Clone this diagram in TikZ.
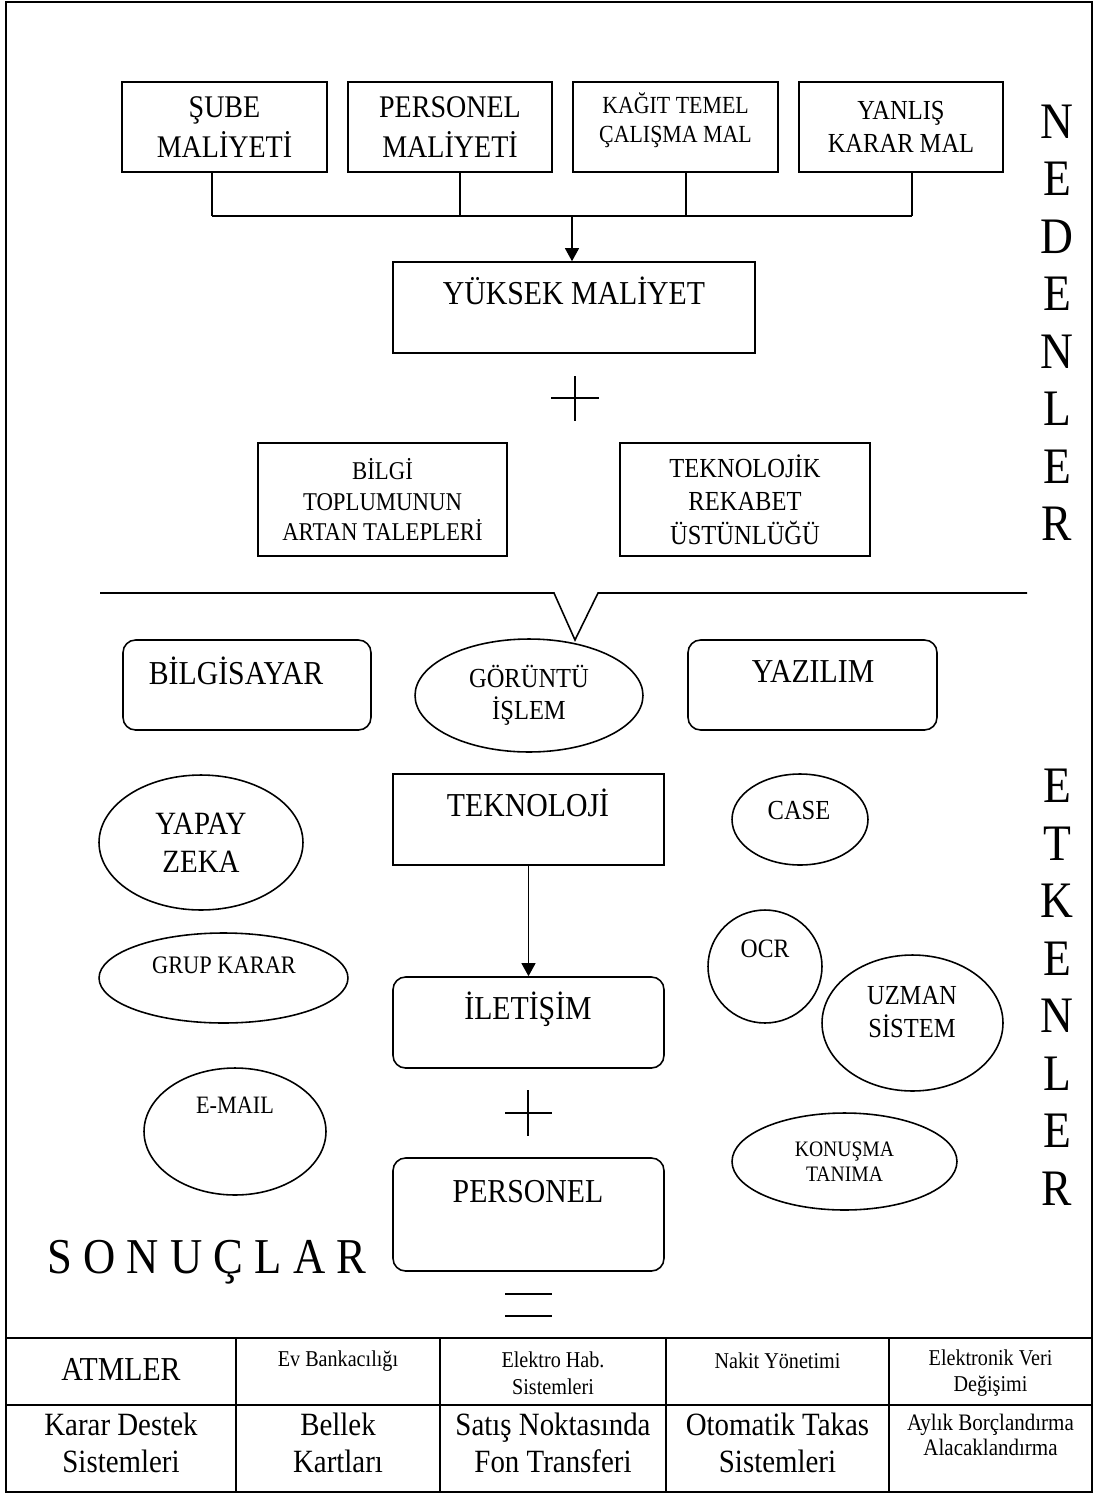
\documentclass[tikz,border=0pt]{standalone}
\usepackage{fontspec}
\setmainfont{Liberation Serif}[FakeStretch=0.89]
\usetikzlibrary{shapes.geometric}
\usetikzlibrary{arrows.meta}

\newcommand\fsz[2]{\fontsize{\fpeval{1.12*#1}}{\fpeval{1.12*#2}}\selectfont}

\tikzset{
  box/.style={draw, rectangle, align=center, inner sep=0pt},
  rbox/.style={draw, rectangle, rounded corners=0.25cm, inner sep=0pt},
  oval/.style={draw, ellipse, align=center, inner sep=0pt},
  lbl/.style={align=center, inner sep=0pt},
  side/.style={inner sep=0pt, font=\fsz{26}{30}},
  arr/.style={-{Triangle[width=8pt,length=7.5pt]}},
}

\begin{document}
\begin{tikzpicture}[x=0.02cm, y=-0.02cm, line width=0.9pt]
\useasboundingbox (0,0) rectangle (1099,1497);

% page frame
\draw (6,2) rectangle (1092,1492);

% causes
\node[box, minimum width=4.1cm, minimum height=1.8cm, font=\fsz{16}{20.5}] (sube) at (224.5,127) {ŞUBE\\MALİYETİ};
\node[box, minimum width=4.08cm, minimum height=1.8cm, font=\fsz{16}{20.5}] (pers) at (450,127) {PERSONEL\\MALİYETİ};
\node[box, minimum width=4.1cm, minimum height=1.8cm] (kagit) at (675.5,127) {};
\node[lbl, font=\fsz{12.5}{14.7}] (kagit-t) at (675.5,120) {KAĞIT TEMEL\\ÇALIŞMA MAL};
\node[box, minimum width=4.08cm, minimum height=1.8cm, font=\fsz{14}{17}] (yanlis) at (901,127) {YANLIŞ\\KARAR MAL};

\coordinate (bus) at (572,216);
\foreach \n/\x in {sube/212, pers/460, kagit/686, yanlis/912}
  \draw (\n.south -| \x,0) -- (\x,216);
\draw (212,216) -- (912,216);

\node[box, minimum width=7.24cm, minimum height=1.82cm] (yuksek) at (574,307.5) {};
\node[lbl, font=\fsz{17}{20}] (yuksek-t) at (574,291) {YÜKSEK MALİYET};
\draw[arr] (bus) -- (yuksek.north -| bus);

\draw (551,398) -- (599,398) (575,376) -- (575,421);

\node[box, minimum width=4.98cm, minimum height=2.26cm, font=\fsz{13}{15.3}] (bilgi) at (382.5,499.5) {BİLGİ\\TOPLUMUNUN\\ARTAN TALEPLERİ};
\node[box, minimum width=5cm, minimum height=2.26cm, font=\fsz{14}{17}] (tekrek) at (745,499.5) {TEKNOLOJİK\\REKABET\\ÜSTÜNLÜĞÜ};

\foreach \l [count=\i] in {N,E,D,E,N,L,E,R}
  \node[side] (ned\i) at (1057, {121.5+57.5*(\i-1)}) {\l};

% factors
\node[oval, minimum width=4.56cm, minimum height=2.26cm, font=\fsz{14}{16.4}] (goruntu) at (529,695.5) {GÖRÜNTÜ\\İŞLEM};
\coordinate (tip) at (575,640);
\draw (100,593) -- (554,593) -- (tip) -- (598,593) -- (1027,593);

\node[rbox, minimum width=4.96cm, minimum height=1.8cm] (bilgisayar) at (247,685) {};
\node[lbl, font=\fsz{17}{20}] (bilgisayar-t) at (236,671) {BİLGİSAYAR};
\node[rbox, minimum width=4.98cm, minimum height=1.8cm] (yazilim) at (812.5,685) {};
\node[lbl, font=\fsz{17}{20}] (yazilim-t) at (813,671) {YAZILIM};

\node[box, minimum width=5.42cm, minimum height=1.82cm] (teknoloji) at (528.5,819.5) {};
\node[lbl, font=\fsz{17}{20}] (teknoloji-t) at (528,803) {TEKNOLOJİ};
\node[rbox, minimum width=5.42cm, minimum height=1.82cm] (iletisim) at (528.5,1022.5) {};
\node[lbl, font=\fsz{17}{20}] (iletisim-t) at (528,1009) {İLETİŞİM};
\draw[arr] (teknoloji) -- (iletisim);

\draw (505,1113) -- (552,1113) (528,1090) -- (528,1136);

\node[rbox, minimum width=5.42cm, minimum height=2.26cm] (personel) at (528.5,1214.5) {};
\node[lbl, font=\fsz{17}{20}] (personel-t) at (528,1192) {PERSONEL};

\draw (505,1294) -- (552,1294) (505,1316) -- (552,1316);

\node[oval, minimum width=4.08cm, minimum height=2.7cm, font=\fsz{16.5}{19.3}] (yapay) at (201,842.5) {YAPAY\\ZEKA};
\node[oval, minimum width=4.98cm, minimum height=1.8cm] (grup) at (223.5,978) {};
\node[lbl, font=\fsz{12.8}{15}] (grup-t) at (224,965) {GRUP KARAR};
\node[oval, minimum width=3.64cm, minimum height=2.54cm] (email) at (235,1131.5) {};
\node[lbl, font=\fsz{12.7}{15}] (email-t) at (235,1105) {E-MAIL};

\node[oval, minimum width=2.72cm, minimum height=1.82cm] (case) at (800,819.5) {};
\node[lbl, font=\fsz{14}{16}] (case-t) at (799,811) {CASE};
\node[oval, minimum width=2.28cm, minimum height=2.26cm] (ocr) at (765,966.5) {};
\node[lbl, font=\fsz{13.5}{16}] (ocr-t) at (765,949) {OCR};
\node[oval, minimum width=3.62cm, minimum height=2.72cm] (uzman) at (912.5,1023) {};
\node[lbl, font=\fsz{14}{17}] (uzman-t) at (912,1012) {UZMAN\\SİSTEM};
\node[oval, minimum width=4.5cm, minimum height=1.94cm, font=\fsz{11.2}{13}] (konusma) at (844.5,1161.5) {KONUŞMA\\TANIMA};

\foreach \l [count=\i] in {E,T,K,E,N,L,E,R}
  \node[side] (etk\i) at (1057, {786+57.5*(\i-1)}) {\l};

\node[lbl, font=\fsz{25.5}{30}] (sonuclar) at (207,1262) {S O N U Ç L A R};

% results table
\draw (6,1338) -- (1092,1338);
\draw (6,1405) -- (1092,1405);
\foreach \x in {236,440,666,889}
  \draw (\x,1338) -- (\x,1492);

\node[lbl, font=\fsz{17}{20}] (atm) at (121,1369) {ATMLER};
\node[lbl, font=\fsz{11.5}{13.6}] (evbank) at (338,1361) {Ev Bankacılığı};
\node[lbl, font=\fsz{11.5}{13.6}] (elektro) at (553,1373) {Elektro Hab.\\Sistemleri};
\node[lbl, font=\fsz{11.5}{13.6}] (nakit) at (777.5,1361) {Nakit Yönetimi};
\node[lbl, font=\fsz{11.5}{13.6}] (edi) at (990.5,1373) {Elektronik Veri\\Değişimi};

\node[lbl, font=\fsz{16.5}{18.7}] (karar) at (121,1443) {Karar Destek\\Sistemleri};
\node[lbl, font=\fsz{16.5}{18.7}] (bellek) at (338,1443) {Bellek\\Kartları};
\node[lbl, font=\fsz{16.5}{18.7}] (satis) at (553,1443) {Satış Noktasında\\Fon Transferi};
\node[lbl, font=\fsz{16.5}{18.7}] (otomatik) at (777.5,1443) {Otomatik Takas\\Sistemleri};
\node[lbl, font=\fsz{12}{13}] (aylik) at (990.5,1435) {Aylık Borçlandırma\\Alacaklandırma};

\end{tikzpicture}
\end{document}
